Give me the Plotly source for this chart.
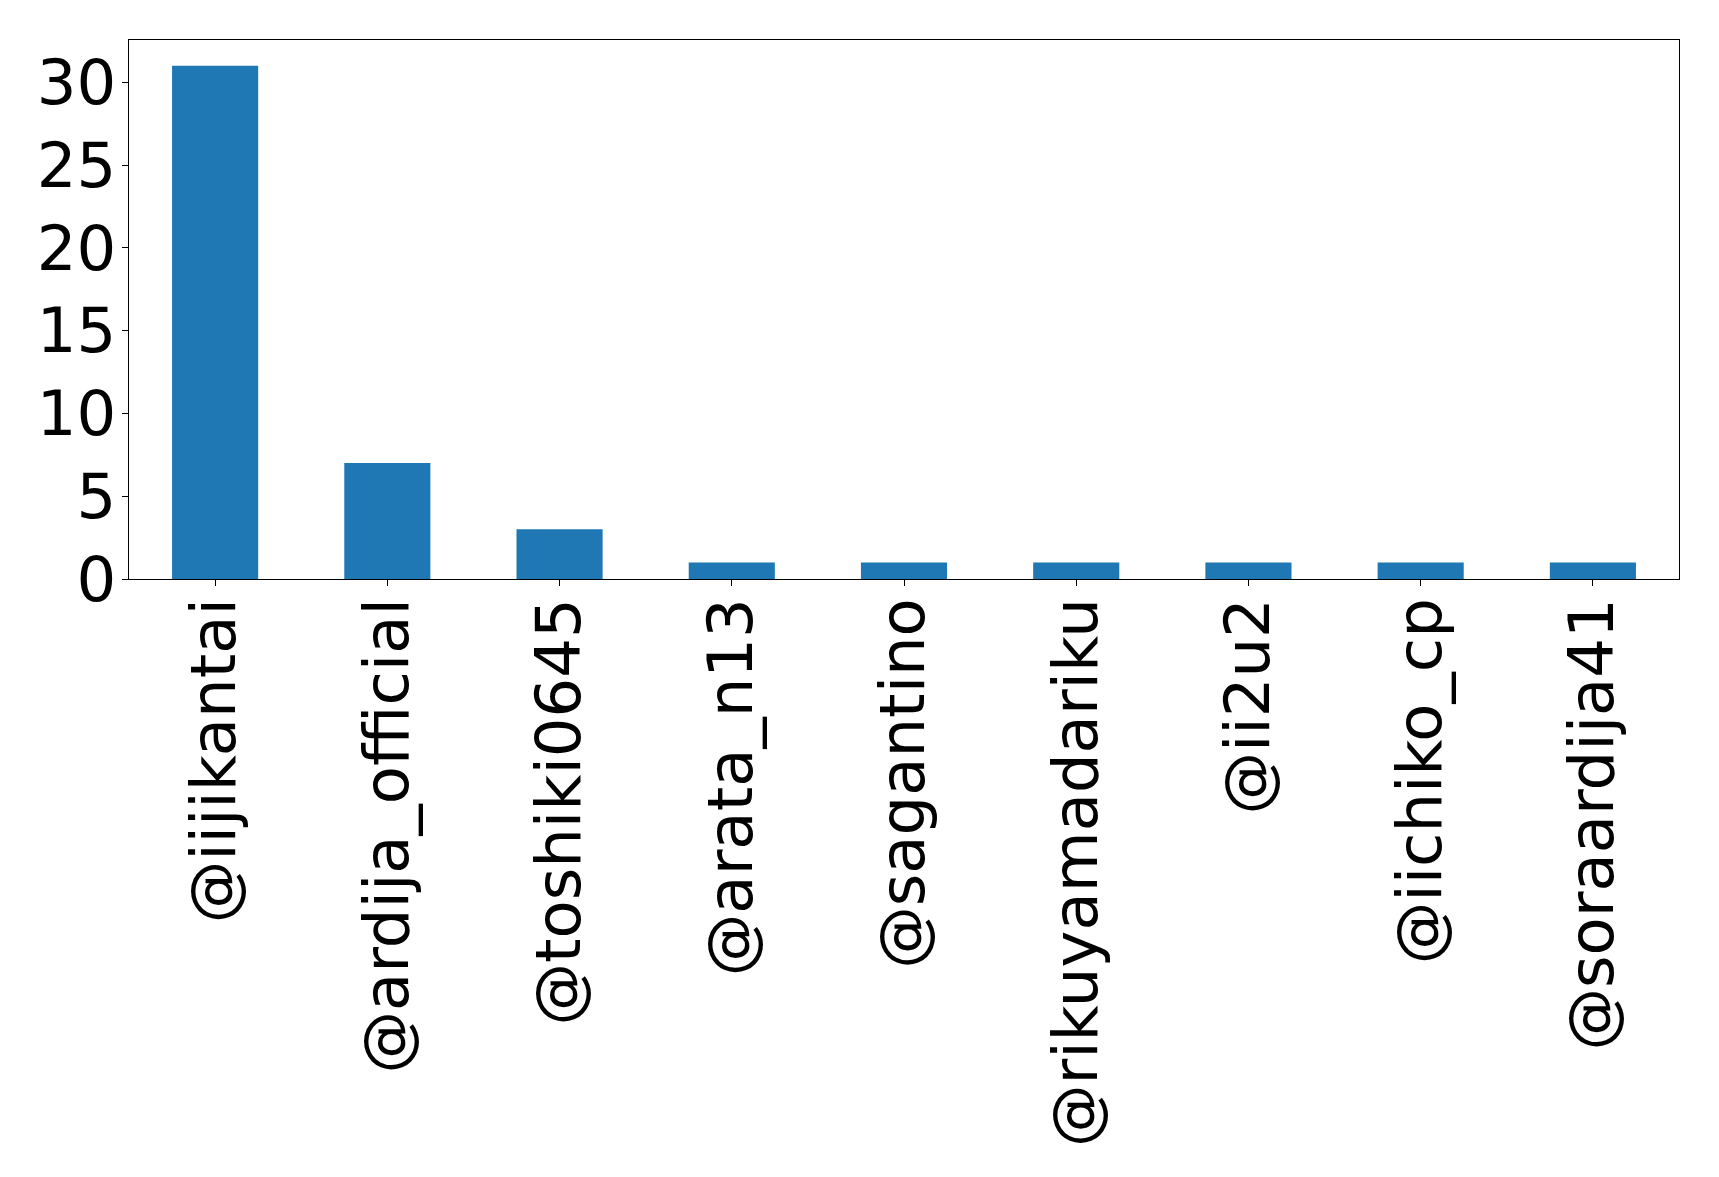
import plotly.graph_objects as go

categories = ["@iijikantai", "@ardija_official", "@toshiki0645", "@arata_n13", "@sagantino",
              "@rikuyamadariku", "@ii2u2", "@iichiko_cp", "@soraardija41"]
values = [31, 7, 3, 1, 1, 1, 1, 1, 1]
y_ticks = [0, 5, 10, 15, 20, 25, 30]

fig = go.Figure(go.Bar(x=list(range(len(categories))), y=values, width=0.5,
                       marker=dict(color="#1f77b4", line=dict(width=0))))

fig.update_layout(
    width=1719, height=1177,
    margin=dict(l=121, r=48, t=32, b=606, autoexpand=False),
    plot_bgcolor="white", paper_bgcolor="white",
    font=dict(family="DejaVu Sans", size=62.5, color="black"),
    showlegend=False,
)
fig.update_xaxes(range=[-0.5, len(categories) - 0.5], tickmode="array",
                 tickvals=list(range(len(categories))), ticktext=categories,
                 tickangle=-90, showgrid=False, zeroline=False, automargin=False,
                 showline=True, mirror=True, linecolor="black", linewidth=1.3,
                 ticks="outside", ticklen=6, tickcolor="black", tickwidth=1.3,
                 ticklabelstandoff=-13)
fig.update_yaxes(range=[0, 32.55], tickmode="array", tickvals=y_ticks,
                 showgrid=False, zeroline=False, automargin=False,
                 showline=True, mirror=True, linecolor="black", linewidth=1.3,
                 ticks="outside", ticklen=6, tickcolor="black", tickwidth=1.3,
                 ticklabelstandoff=-7)

fig.write_html("out.html")
